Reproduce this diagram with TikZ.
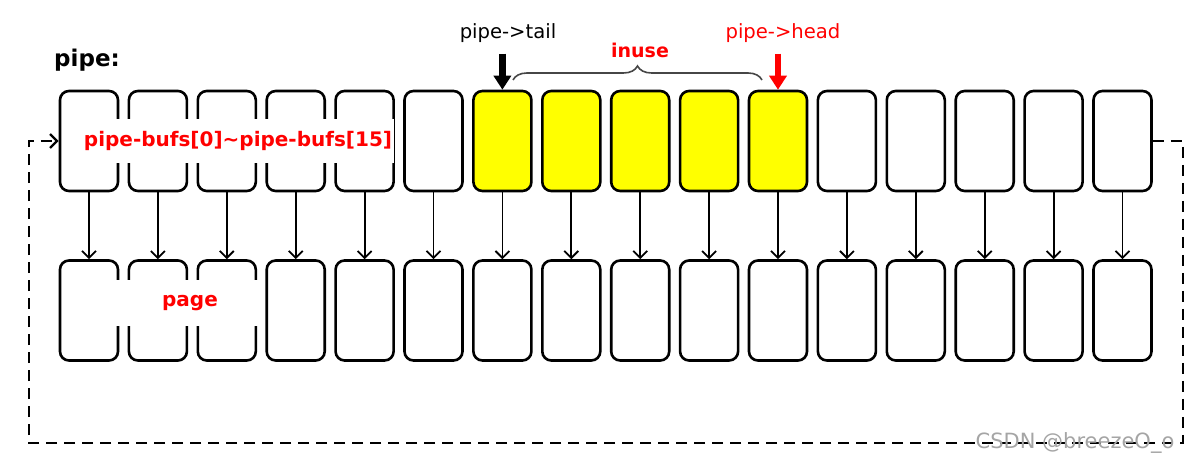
\documentclass[tikz,border=0pt]{standalone}
\usepackage{fontspec}
\setmainfont{DejaVu Sans}
\usepackage{xcolor}
\definecolor{pipered}{RGB}{255, 0, 0}
\definecolor{pipeyellow}{RGB}{255, 255, 0}
\definecolor{pipegray}{RGB}{70, 70, 70}
\definecolor{markgray}{RGB}{165, 165, 165}
\usetikzlibrary{arrows.meta, decorations.pathreplacing, calc}

\begin{document}
\begin{tikzpicture}[
    x=0.5pt, y=0.5pt,
    buf/.style={draw, line width=1.3pt, rounded corners=4.5pt, minimum width=29pt, minimum height=50pt, inner sep=0pt},
    link/.style={line width=0.9pt, -{Straight Barb[length=3.5pt, width=7pt]}},
    ptr/.style={line width=3.3pt, -{Triangle[length=7pt, width=8.5pt]}},
    ring/.style={line width=1.2pt, dash pattern=on 5.5pt off 3.5pt, -{Straight Barb[length=3.5pt, width=7pt]}},
    tag/.style={font=\bfseries\fontsize{10}{12}\selectfont, text=pipered, fill=white}
]
\useasboundingbox (0,0) rectangle (1195,461);

% Buffers del pipe y sus paginas
\foreach \i in {1,...,16} {
    \def\fillc{white}
    \ifnum\i>6 \ifnum\i<12 \def\fillc{pipeyellow}\fi\fi
    \node[buf, fill=\fillc] (t\i) at ({89+(\i-1)*68.9}, 320) {};
    \node[buf] (b\i) at ({89+(\i-1)*68.9}, 150.5) {};
    \draw[link] (t\i) -- (b\i);
}

% Anillo circular (lineas discontinuas)
\coordinate (ne) at (1183, 320);
\coordinate (se) at (1183, 18);
\coordinate (sw) at (29, 18);
\coordinate (nw) at (29, 320);
\draw[ring] (t16.east) -- (ne) -- (se) -- (sw) -- (nw) -- (t1.west);

% Etiquetas sobre las cajas
\node[tag, inner xsep=1pt, minimum height=22pt] (bufs) at (238, 320) {pipe-bufs[0]\textasciitilde pipe-bufs[15]};
\node[tag, minimum width=74pt, minimum height=23pt] (page) at (190, 158) {page};
\node[font=\bfseries\fontsize{11.5}{13}\selectfont] (name) at (87, 401) {pipe:};

% Punteros tail y head
\node[font=\fontsize{9.8}{12}\selectfont] (tail) at (508, 428) {pipe->tail};
\node[font=\fontsize{9.8}{12}\selectfont, text=pipered] (head) at (783, 428) {pipe->head};
\coordinate (tailfrom) at ($(t7.north)+(0,36)$);
\coordinate (headfrom) at ($(t11.north)+(0,36)$);
\draw[ptr] (tailfrom) -- (t7.north);
\draw[ptr, pipered] (headfrom) -- (t11.north);

% Llave de los buffers en uso
\coordinate (bl) at (513, 381);
\coordinate (br) at (762, 381);
\draw[pipegray, line width=0.8pt, decorate, decoration={brace, amplitude=7pt}] (bl) -- (br);
\node[font=\bfseries\fontsize{9.5}{11}\selectfont, text=pipered] (inuse) at (640, 411) {inuse};

% Marca de agua
\node[font=\fontsize{10.5}{12}\selectfont, text=markgray] (mark) at (1075, 18) {CSDN @breezeO\_o};

\end{tikzpicture}
\end{document}
